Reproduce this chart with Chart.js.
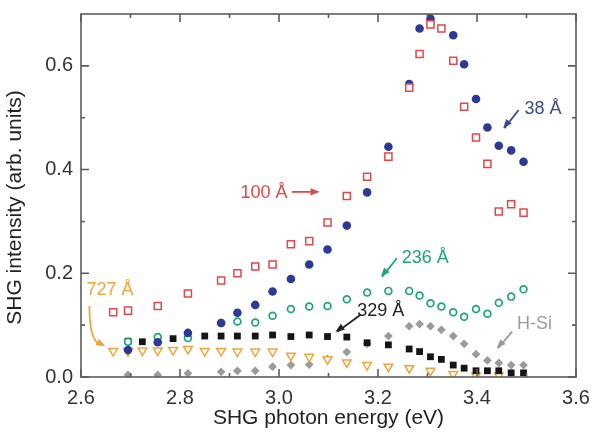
<!DOCTYPE html>
<html>
<head>
<meta charset="utf-8">
<title>SHG spectra</title>
<script src="https://cdn.jsdelivr.net/npm/chart.js@4/dist/chart.umd.min.js"></script>
<style>
  html, body { margin: 0; padding: 0; background: #fff; }
  #wrap { width: 592px; height: 432px; }
</style>
</head>
<body>
<div id="wrap"><canvas id="shgChart" width="592" height="432"></canvas></div>
<script>
// photon energies (eV) and SHG intensities (arb. units) per film
const energy100 = [2.665, 2.695, 2.755, 2.816, 2.883, 2.916, 2.952, 2.987, 3.024, 3.061, 3.098, 3.137, 3.178, 3.221, 3.263, 3.284, 3.306, 3.328, 3.352, 3.374, 3.398, 3.421, 3.444, 3.469, 3.494];
const shg100 = [0.125, 0.128, 0.137, 0.161, 0.186, 0.200, 0.213, 0.217, 0.256, 0.262, 0.298, 0.349, 0.386, 0.425, 0.558, 0.623, 0.680, 0.672, 0.610, 0.521, 0.462, 0.411, 0.319, 0.333, 0.317];

const energy38 = [2.695, 2.755, 2.816, 2.883, 2.916, 2.952, 2.987, 3.024, 3.061, 3.098, 3.137, 3.178, 3.221, 3.263, 3.284, 3.306, 3.352, 3.374, 3.398, 3.421, 3.444, 3.469, 3.494];
const shg38 = [0.052, 0.067, 0.085, 0.104, 0.124, 0.139, 0.165, 0.189, 0.217, 0.246, 0.292, 0.356, 0.444, 0.565, 0.672, 0.691, 0.659, 0.603, 0.536, 0.481, 0.446, 0.437, 0.415];

const energy236 = [2.695, 2.755, 2.816, 2.883, 2.916, 2.952, 2.987, 3.024, 3.061, 3.098, 3.137, 3.178, 3.221, 3.263, 3.284, 3.306, 3.328, 3.352, 3.374, 3.398, 3.421, 3.444, 3.469, 3.494];
const shg236 = [0.068, 0.077, 0.075, 0.104, 0.107, 0.105, 0.118, 0.131, 0.136, 0.137, 0.150, 0.163, 0.166, 0.166, 0.157, 0.142, 0.136, 0.125, 0.116, 0.131, 0.122, 0.143, 0.155, 0.169];

const energy329 = [2.695, 2.724, 2.786, 2.850, 2.883, 2.916, 2.952, 2.987, 3.024, 3.061, 3.098, 3.137, 3.178, 3.221, 3.263, 3.284, 3.306, 3.328, 3.352, 3.374, 3.398, 3.421, 3.444, 3.469, 3.494];
const shg329 = [0.069, 0.068, 0.074, 0.079, 0.079, 0.079, 0.079, 0.081, 0.078, 0.081, 0.078, 0.077, 0.066, 0.062, 0.054, 0.049, 0.039, 0.034, 0.023, 0.017, 0.012, 0.012, 0.012, 0.008, 0.008];

const energy727 = [2.665, 2.695, 2.724, 2.755, 2.786, 2.816, 2.850, 2.883, 2.916, 2.952, 2.987, 3.024, 3.061, 3.098, 3.137, 3.178, 3.221, 3.263, 3.306, 3.352, 3.398, 3.444];
const shg727 = [0.050, 0.050, 0.051, 0.051, 0.052, 0.054, 0.050, 0.050, 0.049, 0.049, 0.049, 0.041, 0.039, 0.034, 0.028, 0.023, 0.020, 0.017, 0.012, 0.006, 0.003, 0.003];

const energyHSi = [2.695, 2.755, 2.816, 2.883, 2.916, 2.952, 2.987, 3.024, 3.061, 3.098, 3.137, 3.178, 3.221, 3.263, 3.284, 3.306, 3.328, 3.352, 3.374, 3.398, 3.421, 3.444, 3.469, 3.494];
const shgHSi = [0.004, 0.004, 0.007, 0.010, 0.012, 0.012, 0.020, 0.023, 0.024, 0.035, 0.048, 0.064, 0.079, 0.098, 0.102, 0.098, 0.091, 0.079, 0.064, 0.044, 0.032, 0.027, 0.023, 0.023];

// axis ticks
const xMajorTicks = [2.6, 2.8, 3.0, 3.2, 3.4, 3.6];
const xMinorTicks = [2.7, 2.9, 3.1, 3.3, 3.5];
const yMajorTicks = [0.0, 0.2, 0.4, 0.6];
const yMinorTicks = [0.1, 0.3, 0.5];

const toPoints = (xs, ys) => xs.map((x, i) => ({ x, y: ys[i] }));

// labels with arrows, all in data coordinates
const callouts = [
    { text: '100 Å', color: '#e2474b', at: [2.922, 0.355], path: [[3.026, 0.357], [3.082, 0.357]] },
    { text: '38 Å', color: '#3a4a8e', at: [3.496, 0.517], path: [[3.484, 0.515], [3.453, 0.480]] },
    { text: '236 Å', color: '#1ca57b', at: [3.248, 0.230], path: [[3.238, 0.229], [3.206, 0.1935]] },
    { text: '329 Å', color: '#222222', at: [3.158, 0.128], path: [[3.164, 0.1196], [3.114, 0.0874]] },
    { text: '727 Å', color: '#f2a43a', at: [2.611, 0.167], path: [[2.617, 0.137], [2.617, 0.0907], [2.649, 0.0598]], curved: true },
    { text: 'H-Si', color: '#9b9b9b', at: [3.481, 0.103], path: [[3.471, 0.0874], [3.440, 0.0554]] }
];

const FONT = '"Liberation Sans", Arial, Helvetica, sans-serif';

function drawArrowHead(ctx, fromX, fromY, toX, toY) {
    const ang = Math.atan2(toY - fromY, toX - fromX);
    const len = 9, half = 3.6;
    ctx.beginPath();
    ctx.moveTo(toX, toY);
    ctx.lineTo(toX - len * Math.cos(ang) + half * Math.sin(ang), toY - len * Math.sin(ang) - half * Math.cos(ang));
    ctx.lineTo(toX - len * Math.cos(ang) - half * Math.sin(ang), toY - len * Math.sin(ang) + half * Math.cos(ang));
    ctx.closePath();
    ctx.fill();
}

// frame on all four sides with inward ticks, plus the rotated y title
const frameTicks = {
    id: 'frameTicks',
    afterDraw(chart) {
        const { ctx, chartArea: a, scales: { x, y } } = chart;
        ctx.save();
        ctx.strokeStyle = '#5c5c5c';
        ctx.lineWidth = 1.6;
        ctx.strokeRect(a.left, a.top, a.right - a.left, a.bottom - a.top);
        ctx.beginPath();
        const xTick = (v, len) => {
            const px = x.getPixelForValue(v);
            ctx.moveTo(px, a.bottom); ctx.lineTo(px, a.bottom - len);
            ctx.moveTo(px, a.top); ctx.lineTo(px, a.top + len);
        };
        const yTick = (v, len) => {
            const py = y.getPixelForValue(v);
            ctx.moveTo(a.left, py); ctx.lineTo(a.left + len, py);
            ctx.moveTo(a.right, py); ctx.lineTo(a.right - len, py);
        };
        xMajorTicks.forEach(v => xTick(v, 8));
        xMinorTicks.forEach(v => xTick(v, 4));
        yMajorTicks.forEach(v => yTick(v, 8));
        yMinorTicks.forEach(v => yTick(v, 4));
        ctx.stroke();

        ctx.translate(15, (a.top + a.bottom) / 2 + 12);
        ctx.rotate(-Math.PI / 2);
        ctx.fillStyle = '#222';
        ctx.font = '21px ' + FONT;
        ctx.textAlign = 'center';
        ctx.textBaseline = 'middle';
        ctx.fillText('SHG intensity (arb. units)', 0, 0);
        ctx.restore();
    }
};

const calloutPlugin = {
    id: 'callouts',
    afterDraw(chart) {
        const { ctx, scales: { x, y } } = chart;
        const px = p => [x.getPixelForValue(p[0]), y.getPixelForValue(p[1])];
        ctx.save();
        ctx.font = '18px ' + FONT;
        ctx.textBaseline = 'middle';
        ctx.textAlign = 'left';
        ctx.lineWidth = 1.8;
        callouts.forEach(c => {
            ctx.fillStyle = c.color;
            ctx.strokeStyle = c.color;
            const [tx, ty] = px(c.at);
            ctx.fillText(c.text, tx, ty);

            const pts = c.path.map(px);
            const last = pts[pts.length - 1];
            const prev = pts[pts.length - 2];
            ctx.beginPath();
            ctx.moveTo(pts[0][0], pts[0][1]);
            if (c.curved) {
                ctx.quadraticCurveTo(prev[0], last[1] - 2, last[0] - 3, last[1] - 1);
            } else {
                ctx.lineTo(last[0] - 0.8 * (last[0] - prev[0]) / 10, last[1]);
            }
            ctx.stroke();
            if (c.curved) {
                drawArrowHead(ctx, prev[0] + 4, last[1] - 6, last[0], last[1]);
            } else {
                drawArrowHead(ctx, prev[0], prev[1], last[0], last[1]);
            }
        });
        ctx.restore();
    }
};

document.addEventListener('DOMContentLoaded', () => {
    const ctx = document.getElementById('shgChart').getContext('2d');
    const pointClip = { left: 10, right: 10, top: 10, bottom: 0 };

    new Chart(ctx, {
        type: 'scatter',
        data: {
            datasets: [
                {
                    label: '100 Å', data: toPoints(energy100, shg100), order: 1,
                    pointStyle: 'rect', pointRadius: 5, borderWidth: 1.5,
                    borderColor: '#e2474b', backgroundColor: '#ffffff', clip: pointClip
                },
                {
                    label: '38 Å', data: toPoints(energy38, shg38), order: 2,
                    pointStyle: 'circle', pointRadius: 4.3, borderWidth: 0,
                    borderColor: '#2c3a96', backgroundColor: '#2c3a96', clip: pointClip
                },
                {
                    label: '236 Å', data: toPoints(energy236, shg236), order: 3,
                    pointStyle: 'circle', pointRadius: 3.4, borderWidth: 1.7,
                    borderColor: '#1ca57b', backgroundColor: '#ffffff', clip: pointClip
                },
                {
                    label: '329 Å', data: toPoints(energy329, shg329), order: 4,
                    pointStyle: 'rect', pointRadius: 4.8, borderWidth: 0,
                    borderColor: '#151515', backgroundColor: '#151515', clip: pointClip
                },
                {
                    label: '727 Å', data: toPoints(energy727, shg727), order: 5,
                    pointStyle: 'triangle', rotation: 180, pointRadius: 5, borderWidth: 1.5,
                    borderColor: '#f2a43a', backgroundColor: '#ffffff', clip: pointClip
                },
                {
                    label: 'H-Si', data: toPoints(energyHSi, shgHSi), order: 6,
                    pointStyle: 'rectRot', pointRadius: 4.4, borderWidth: 0,
                    borderColor: '#9b9b9b', backgroundColor: '#9b9b9b', clip: pointClip
                }
            ]
        },
        options: {
            responsive: false,
            animation: false,
            events: [],
            layout: { padding: { top: 14, right: 16, left: 0, bottom: 0 } },
            plugins: {
                legend: { display: false },
                tooltip: { enabled: false }
            },
            scales: {
                x: {
                    type: 'linear', min: 2.6, max: 3.6,
                    afterFit: s => { s.height = 55; s.paddingLeft = 0; s.paddingRight = 0; },
                    afterBuildTicks: s => { s.ticks = xMajorTicks.map(v => ({ value: v })); },
                    grid: { display: false, drawTicks: false },
                    border: { display: false },
                    ticks: {
                        padding: 9, color: '#333',
                        font: { family: FONT, size: 20 },
                        callback: v => v.toFixed(1)
                    },
                    title: {
                        display: true, text: 'SHG photon energy (eV)', color: '#222',
                        font: { family: FONT, size: 21 }, padding: { top: 0, bottom: 1 }
                    }
                },
                y: {
                    type: 'linear', min: 0, max: 0.7,
                    afterFit: s => { s.width = 81; s.paddingTop = 0; s.paddingBottom = 0; },
                    afterBuildTicks: s => { s.ticks = yMajorTicks.map(v => ({ value: v })); },
                    grid: { display: false, drawTicks: false },
                    border: { display: false },
                    ticks: {
                        padding: 8, color: '#333',
                        font: { family: FONT, size: 20 },
                        callback: v => v.toFixed(1)
                    }
                }
            }
        },
        plugins: [frameTicks, calloutPlugin]
    });
});
</script>
</body>
</html>
